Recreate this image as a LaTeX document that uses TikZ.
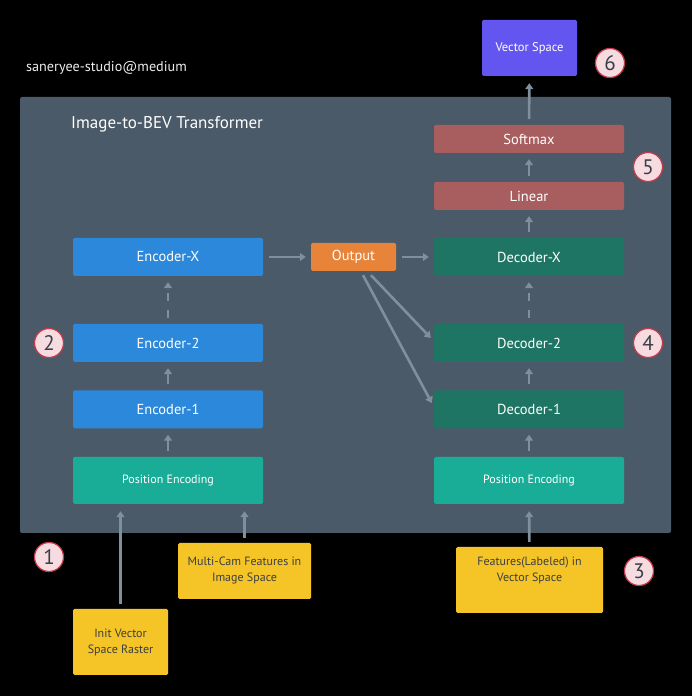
\documentclass[tikz,border=0pt]{standalone}
\usepackage{fontspec}
\setmainfont{PT Sans}
\usetikzlibrary{arrows.meta}
\definecolor{panelgray}{HTML}{4B5A68}
\definecolor{arrowgray}{HTML}{7F909C}
\definecolor{encblue}{HTML}{2C88DA}
\definecolor{posteal}{HTML}{19AD98}
\definecolor{decgreen}{HTML}{1F7563}
\definecolor{headred}{HTML}{A85E5E}
\definecolor{outorange}{HTML}{E8833A}
\definecolor{vspurple}{HTML}{6356F0}
\definecolor{inyellow}{HTML}{F5C426}
\definecolor{numpink}{HTML}{F6DCE0}
\definecolor{numred}{HTML}{C8394B}
\definecolor{darktext}{HTML}{3A3F45}
\begin{document}
\begin{tikzpicture}[x=1pt, y=1pt, font=\fontsize{14.5}{16}\selectfont, line join=round, line cap=round, >={Triangle[width=8pt,length=6pt]},
	box/.style={rounded corners=1.5pt, inner sep=0pt, text=white, align=center},
	enc/.style={box, fill=encblue, minimum width=190pt, minimum height=38pt},
	dec/.style={box, fill=decgreen, minimum width=190pt, minimum height=38pt},
	posenc/.style={box, fill=posteal, minimum width=190pt, minimum height=47pt, font=\fontsize{12}{14}\selectfont},
	headbox/.style={box, fill=headred, minimum width=190pt, minimum height=28pt},
	inbox/.style={box, fill=inyellow, text=darktext, font=\fontsize{12}{16}\selectfont},
	num/.style={circle, draw=numred, fill=numpink, line width=1.2pt, minimum size=29pt, inner sep=0pt, text=darktext, font=\fontsize{21}{21}\selectfont},
	arr/.style={->, draw=arrowgray, line width=2.6pt, line cap=butt, shorten <=6pt, shorten >=6pt}]
	% background and panel
	\fill[black] (0,0) rectangle (692,696);
	\fill[panelgray, rounded corners=2pt] (20,163) rectangle (671,599);
	\node[anchor=west, inner sep=0pt, text=white!85!gray, font=\fontsize{14.2}{16}\selectfont] (mark) at (26,628) {saneryee-studio@medium};
	\node[anchor=west, inner sep=0pt, text=white, font=\fontsize{17}{19}\selectfont] (title) at (71,572) {Image-to-BEV Transformer};
	% encoder side
	\node[enc] (encx) at (168,439) {Encoder-X};
	\node[enc] (enc2) at (168,353) {Encoder-2};
	\node[enc] (enc1) at (168,286.5) {Encoder-1};
	\node[posenc] (pel) at (168,215.5) {Position Encoding};
	\node[box, fill=outorange, minimum width=85pt, minimum height=28pt] (out) at (353.5,439) {Output};
	% decoder side
	\node[dec] (decx) at (529,439) {Decoder-X};
	\node[dec] (dec2) at (529,353) {Decoder-2};
	\node[dec] (dec1) at (529,286.5) {Decoder-1};
	\node[posenc] (per) at (529,215.5) {Position Encoding};
	\node[headbox] (lin) at (529,500) {Linear};
	\node[headbox] (soft) at (529,557) {Softmax};
	\node[box, fill=vspurple, minimum width=95pt, minimum height=56pt, font=\fontsize{12.5}{14}\selectfont] (vs) at (529.5,648) {Vector Space};
	% inputs
	\node[inbox, minimum width=95pt, minimum height=66pt] (init) at (120.5,54) {Init Vector\\Space Raster};
	\node[inbox, minimum width=133pt, minimum height=56pt] (multi) at (244.5,125) {Multi-Cam Features in\\Image Space};
	\node[inbox, minimum width=147pt, minimum height=66pt] (feat) at (529.5,116) {Features(Labeled) in\\Vector Space\\[6pt]};
	% step numbers
	\foreach \n/\x/\y in {1/49/139, 2/49/353, 3/639/125, 4/648/353, 5/648/529, 6/610/633}
		\node[num] (c\n) at (\x,\y) {\n};
	% connectors
	\foreach \a/\b in {pel/enc1, enc1/enc2, per/dec1, dec1/dec2, decx/lin, lin/soft}
		\draw[arr] (\a) -- (\b);
	\draw[arr, dash pattern=on 8pt off 9pt] (enc2) -- (encx);
	\draw[arr, dash pattern=on 8pt off 9pt] (dec2) -- (decx);
	\draw[arr, shorten >=7pt] (soft) -- (vs);
	\draw[arr, shorten >=5pt] (encx) -- (out);
	\draw[arr, shorten >=5pt] (out) -- (decx);
	\draw[arr, shorten <=5pt, shorten >=7pt] (init.north) -- (init.north |- pel.south);
	\draw[arr, shorten <=5pt, shorten >=7pt] (multi.north) -- (multi.north |- pel.south);
	\draw[arr, shorten <=5pt, shorten >=7pt] (feat) -- (per);
	\draw[arr, shorten <=0pt, shorten >=0pt] ([xshift=17.5pt,yshift=-4pt]out.south) -- ([xshift=-3pt,yshift=5pt]dec2.west);
	\draw[arr, shorten <=0pt, shorten >=0pt] ([xshift=9.5pt,yshift=-4pt]out.south) -- ([xshift=-2pt,yshift=6.5pt]dec1.west);
\end{tikzpicture}
\end{document}
